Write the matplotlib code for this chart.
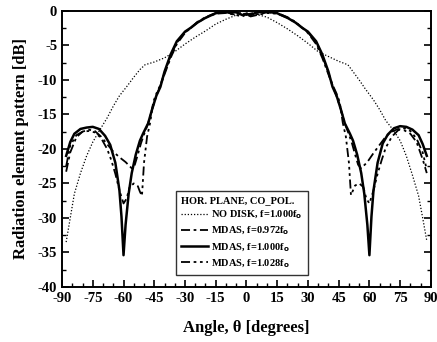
import matplotlib.pyplot as plt
from matplotlib.ticker import MultipleLocator

plt.rcParams['font.family'] = ['Liberation Serif', 'DejaVu Serif']
plt.rcParams['font.weight'] = 'bold'
plt.rcParams['axes.unicode_minus'] = False

# NO DISK, f=1.000f0 (dotted)
th_nodisk = [-88, -86, -84, -81, -78, -75, -71.5, -68, -65, -62, -58, -55, -52, -49.5,
             -45, -40, -35, -30, -25, -20, -15, -10, -5, 0,
             5, 10, 15, 20, 25, 30, 35, 40, 45, 49.5, 52, 55, 58, 62, 65, 68,
             71.5, 75, 78, 81, 84, 86, 88]
db_nodisk = [-33.5, -30, -26.5, -23.5, -21, -19, -17.2, -15.5, -13.8, -12.3, -10.8, -9.6, -8.5, -7.8,
             -7.4, -6.8, -5.9, -4.8, -3.8, -2.9, -1.9, -1.2, -0.6, -0.3,
             -0.5, -0.9, -1.7, -2.6, -3.6, -4.7, -5.9, -6.6, -7.3, -7.8, -8.8, -10.0, -11.3, -12.9, -14.3, -15.9,
             -17.2, -18.8, -21, -23.8, -26.8, -30, -33.3]

# MDAS, f=0.972f0 (dash-dot)
th_972 = [-88, -86, -83, -80, -77, -74, -71, -68, -65, -62, -59, -56, -54.5, -53, -51.5, -50,
          -48, -46, -44, -42, -40, -37, -34, -30, -27, -24, -20, -15, -10, -6, -3, 0,
          3, 6, 10, 15, 20, 24, 27, 30, 34, 37, 40, 42, 44, 46, 48, 50,
          51.5, 53, 54.5, 56, 59, 62, 65, 68, 71, 74, 77, 80, 83, 86, 88]
db_972 = [-23.3, -20.5, -18.3, -17.5, -17.2, -17.4, -18.2, -19.3, -20.4, -21.2, -21.9, -22.8, -22.3, -20.8, -19.2, -17.9,
          -16.3, -14.2, -12.4, -10.8, -9.2, -6.8, -4.8, -3.2, -2.4, -1.6, -0.9, -0.3, -0.2, -0.5, -0.3, -0.6,
          -0.3, -0.5, -0.2, -0.3, -0.9, -1.6, -2.4, -3.2, -4.8, -6.8, -9.2, -10.8, -12.4, -14.2, -16.3, -17.9,
          -19.2, -20.8, -22.3, -22.8, -21.9, -20.6, -19.4, -18.2, -17.5, -17.1, -17.3, -17.8, -19, -21.5, -23.5]

# MDAS, f=1.000f0 (solid)
th_1000 = [-88, -86, -84, -81, -78, -75, -72, -69, -66.5, -64, -62, -61, -60, -59, -57.5, -56,
           -54, -52, -50.5, -48, -46, -44, -42, -40, -37, -34, -30, -27, -24, -20, -15, -10, -5, -2, 0,
           2, 5, 10, 15, 20, 24, 27, 30, 34, 37, 40, 42, 44, 46, 48, 50.5,
           52, 54, 56, 57.5, 59, 60, 61, 62, 64, 66.5, 69, 72, 75, 78, 81, 84, 86, 88]
db_1000 = [-21, -19, -17.8, -17.1, -16.9, -16.8, -17.1, -18.1, -19.4, -22, -26, -29.8, -35.4, -31, -26.5, -23.5,
           -20.8, -18.8, -17.8, -16.3, -14.2, -12.3, -11.0, -8.8, -6.3, -4.4, -3.0, -2.4, -1.7, -1.0, -0.33, -0.1, -0.2, -0.6, -0.4,
           -0.6, -0.2, -0.1, -0.33, -1.0, -1.7, -2.4, -3.0, -4.4, -6.3, -8.8, -11.0, -12.3, -14.2, -16.3, -17.8,
           -18.8, -20.8, -23.5, -26.5, -31, -35.4, -29.8, -26, -22, -19.2, -17.9, -17.0, -16.7, -16.8, -17.2, -18, -19.3, -21]

# MDAS, f=1.028f0 (dash-dot-dot)
th_1028 = [-88, -86, -83, -80, -77, -74, -71, -68, -66, -64, -62, -60, -58.5, -57, -55, -53, -52, -51, -50,
           -48.5, -47, -45.5, -44, -42, -40, -37, -34, -30, -27, -24, -20, -15, -10, -5, -2, 0,
           2, 5, 10, 15, 20, 24, 27, 30, 34, 37, 40, 42, 44, 45.5, 47, 48.5,
           50, 51, 52, 53, 55, 57, 58.5, 60, 62, 64, 66, 68, 71, 74, 77, 80, 83, 86, 88]
db_1028 = [-22.5, -19.5, -18, -17.5, -17.4, -17.6, -18.4, -20, -21.6, -23.6, -26, -27.9, -27.2, -25.5, -25.0, -25.4, -26.2, -26.8, -22,
           -18.2, -16.2, -13.2, -12.0, -10.7, -9.0, -6.5, -4.6, -3.1, -2.4, -1.7, -1.0, -0.4, -0.3, -0.6, -0.8, -0.5,
           -0.8, -0.6, -0.3, -0.4, -1.0, -1.7, -2.4, -3.1, -4.6, -6.5, -9.0, -10.7, -12.0, -13.2, -16.2, -18.2,
           -22, -26.7, -26.0, -25.3, -25.0, -25.5, -27.2, -27.9, -26, -23.6, -21.6, -19.8, -18.2, -17.3, -17.0, -17.4, -18.5, -20.5, -23]

fig = plt.figure(figsize=(4.37, 3.42), dpi=100)
ax = fig.add_axes([0.142, 0.161, 0.844, 0.807])

ax.plot(th_nodisk, db_nodisk, color='black', lw=0.9, linestyle=(0, (1, 1.5)),
        label='NO DISK, f=1.000f$_\\mathbf{o}$')
ax.plot(th_972, db_972, color='black', lw=1.3, linestyle=(0, (5, 2, 1.5, 2)),
        label='MDAS, f=0.972f$_\\mathbf{o}$')
ax.plot(th_1000, db_1000, color='black', lw=1.8, linestyle='-',
        label='MDAS, f=1.000f$_\\mathbf{o}$')
ax.plot(th_1028, db_1028, color='black', lw=1.3, linestyle=(0, (5, 2, 1.5, 2, 1.5, 2, 1.5, 2)),
        label='MDAS, f=1.028f$_\\mathbf{o}$')

ax.set_xlim(-90, 90)
ax.set_ylim(-40, 0)
ax.xaxis.set_major_locator(MultipleLocator(15))
ax.xaxis.set_minor_locator(MultipleLocator(5))
ax.yaxis.set_major_locator(MultipleLocator(5))
ax.yaxis.set_minor_locator(MultipleLocator(2.5))
ax.tick_params(which='both', direction='in', right=True, top=False, labelsize=10.5)
ax.tick_params(which='major', length=5, width=1.2)
ax.tick_params(which='minor', length=3, width=1)
for s in ax.spines.values():
    s.set_linewidth(1.4)

ax.set_xlabel('Angle, θ [degrees]', fontsize=12, fontweight='bold', labelpad=11)
ax.set_ylabel('Radiation element pattern [dB]', fontsize=12, fontweight='bold', labelpad=6)

leg = ax.legend(title='HOR. PLANE, CO_POL.', loc='lower left', bbox_to_anchor=(0.309, 0.043),
                borderaxespad=0, fontsize=7.5, title_fontsize=7.5, frameon=True, fancybox=False,
                edgecolor='black', handlelength=2.6, handletextpad=0.3,
                labelspacing=0.35, borderpad=0.5)
leg.get_frame().set_linewidth(1.0)
leg.get_title().set_fontweight('bold')
leg._legend_box.align = 'left'

fig.savefig('out.png', dpi=100)
